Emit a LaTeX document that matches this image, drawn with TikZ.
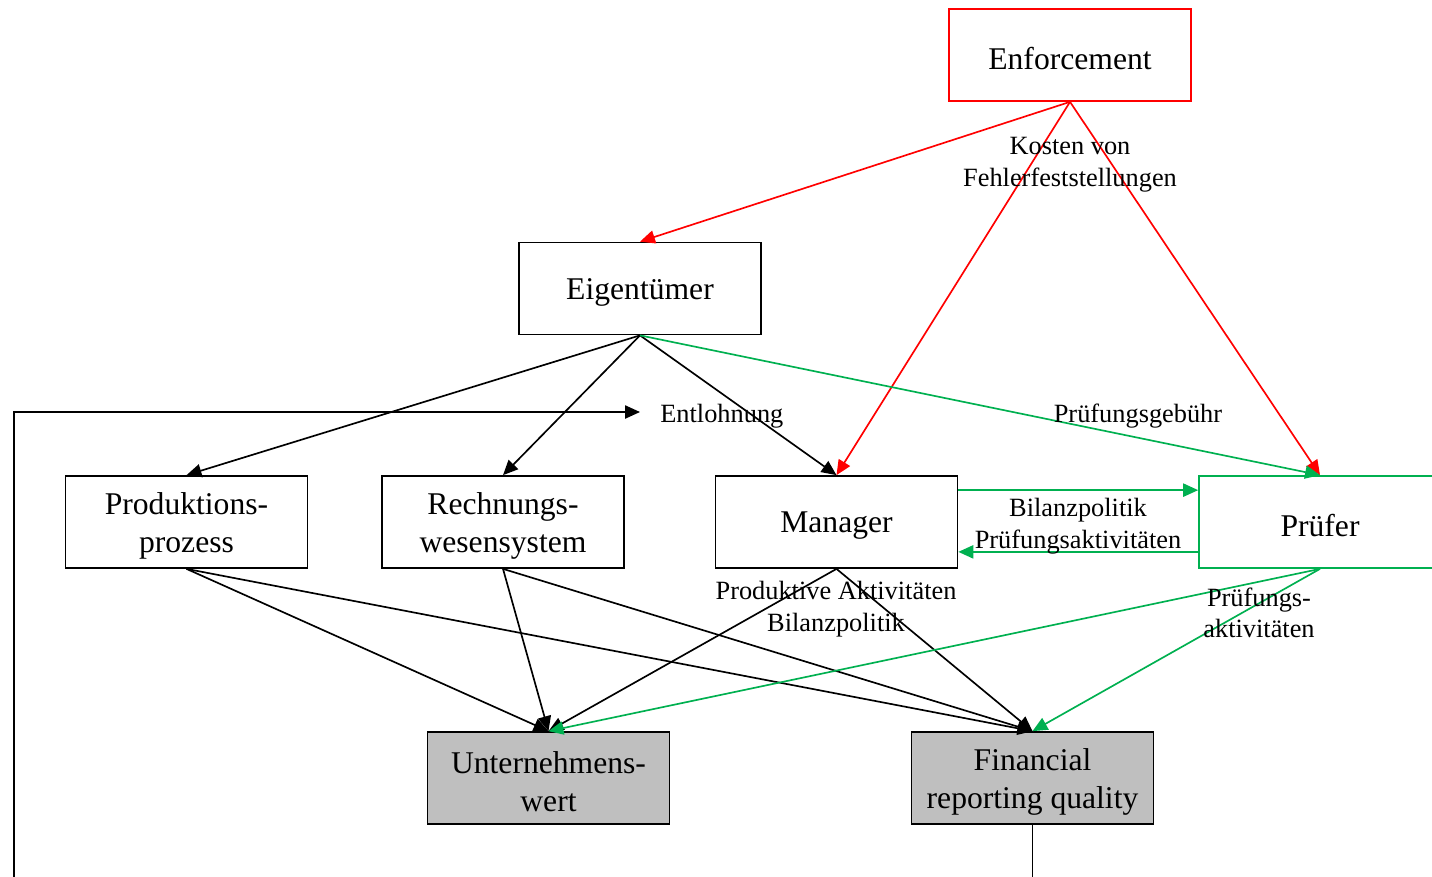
\documentclass[tikz,border=0pt]{standalone}
\usepackage{fontspec}
\setmainfont{Liberation Serif}
\usetikzlibrary{arrows.meta,calc}
\definecolor{agreen}{RGB}{0,176,80}
\definecolor{boxgray}{RGB}{191,191,191}
\tikzset{
  boxtxt/.style={align=center, inner sep=0pt, yshift=-0.08cm, font=\fontsize{18}{21.5}\selectfont},
  box/.style={draw, line width=1pt, minimum width=4.84cm, minimum height=1.84cm,
    inner sep=0pt, label={[boxtxt]center:#1}},
  graybox/.style={box=#1, fill=boxgray},
  lbl/.style={align=center, inner sep=0pt, font=\fontsize{15}{18}\selectfont},
  arr/.style={line width=0.95pt, -{Triangle[length=8.5pt,width=7.5pt]}},
  redarr/.style={arr, red},
  greenarr/.style={arr, agreen}
}
\begin{document}
\begin{tikzpicture}[x=0.02cm,y=-0.02cm]
\useasboundingbox (0,0) rectangle (1432,876);
\node[box={Enforcement}, draw=red] (Enf) at (1070,55) {};
\node[box={Eigentümer}] (Eig) at (640,288.5) {};
\node[box={Produktions-\\prozess}] (Prod) at (186.5,522) {};
\node[box={Rechnungs-\\wesensystem}] (Rech) at (503,522) {};
\node[box={Manager}] (Man) at (836.5,522) {};
\node[box={Prüfer}, draw=agreen] (Pr) at (1320,522) {};
\node[graybox={Unternehmens-\\wert}] (UW) at (548.5,778) {};
\node[graybox={Financial\\reporting quality}] (FRQ) at (1032.5,778) {};

\draw[redarr] (Enf.south) -- (Eig.north);
\draw[redarr] (Enf.south) -- (Man.north);
\draw[redarr] (Enf.south) -- (Pr.north);
\node[lbl] (kosten) at (1070,165) {Kosten von\\Fehlerfeststellungen};

\draw[arr] (Eig.south) -- (Prod.north);
\draw[arr] (Eig.south) -- (Rech.north);
\draw[arr] (Eig.south) -- (Man.north);
\draw[greenarr] (Eig.south) -- (Pr.north);
\node[lbl] (gebuehr) at (1138,416) {Prüfungsgebühr};

\draw[greenarr] ($(Man.north east)+(0,15)$) -- ($(Pr.north west)+(0,15)$);
\draw[greenarr] ($(Pr.south west)+(0,-17)$) -- ($(Man.south east)+(0,-17)$);
\node[lbl] (bil) at (1078,526) {Bilanzpolitik\\Prüfungsaktivitäten};

\draw[arr] (Prod.south) -- (UW.north);
\draw[arr] (Prod.south) -- (FRQ.north);
\draw[arr] (Rech.south) -- (UW.north);
\draw[arr] (Rech.south) -- (FRQ.north);
\draw[arr] (Man.south) -- (UW.north);
\draw[arr] (Man.south) -- (FRQ.north);
\node[lbl] (prodakt) at (836,609) {Produktive Aktivitäten\\Bilanzpolitik};

\draw[greenarr] (Pr.south) -- (UW.north);
\draw[greenarr] (Pr.south) -- (FRQ.north);
\node[lbl] (pruefakt) at (1259,613) {Prüfungs-\\aktivitäten};

\coordinate (entl) at (640,412);
\draw[arr] (FRQ.south) -- ++(0,54) -| (14,412) -- (entl);
\node[lbl, anchor=west] (entlabel) at (660,416) {Entlohnung};
\end{tikzpicture}
\end{document}
